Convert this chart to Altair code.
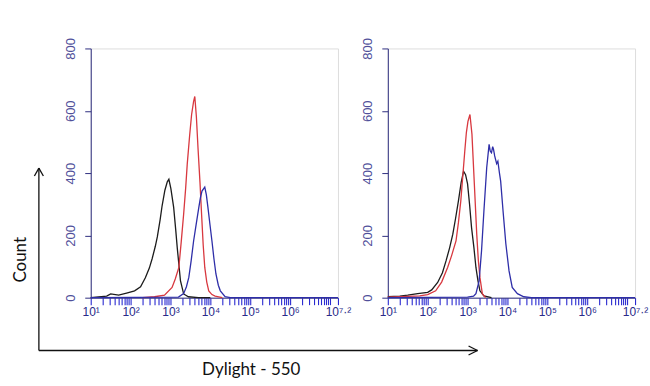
import math
import altair as alt
import pandas as pd

# ---------------- data (log10 fluorescence, count) ----------------
# Left panel
black_L_x = [1.0, 1.4, 1.5, 1.7, 1.9, 2.1, 2.25, 2.37, 2.47, 2.54, 2.62, 2.67, 2.74, 2.79, 2.86, 2.92, 2.96, 3.01, 3.08, 3.13, 3.17, 3.25, 3.33, 3.45, 3.7, 4.0]
black_L_y = [0, 5, 12, 8, 15, 22, 35, 64, 95, 125, 165, 195, 250, 295, 345, 372, 380, 350, 290, 220, 160, 55, 12, 3, 0, 0]
red_L_x = [2.3, 2.6, 2.85, 3.04, 3.12, 3.21, 3.27, 3.33, 3.38, 3.42, 3.48, 3.53, 3.58, 3.61, 3.65, 3.69, 3.74, 3.78, 3.82, 3.86, 3.91, 3.96, 4.04, 4.12, 4.3]
red_L_y = [0, 3, 8, 33, 60, 97, 180, 268, 350, 428, 520, 588, 630, 646, 580, 481, 370, 268, 170, 97, 50, 22, 10, 5, 0]
blue_L_x = [1.0, 3.2, 3.33, 3.40, 3.46, 3.52, 3.58, 3.65, 3.71, 3.75, 3.79, 3.86, 3.90, 3.94, 3.99, 4.04, 4.09, 4.14, 4.2, 4.25, 4.37, 4.5, 7.2]
blue_L_y = [0, 2, 13, 35, 65, 120, 182, 240, 289, 320, 342, 355, 330, 289, 235, 182, 125, 76, 40, 22, 3, 0, 0]

# Right panel
black_R_x = [1.0, 1.3, 1.5, 1.75, 2.0, 2.1, 2.25, 2.37, 2.46, 2.55, 2.63, 2.7, 2.77, 2.84, 2.90, 2.95, 3.0, 3.05, 3.10, 3.16, 3.21, 3.26, 3.31, 3.41, 3.6]
black_R_y = [3, 5, 8, 13, 17, 25, 49, 80, 118, 160, 204, 255, 310, 370, 406, 395, 365, 300, 225, 160, 97, 55, 22, 6, 0]
red_R_x = [1.0, 1.5, 1.8, 2.0, 2.2, 2.35, 2.50, 2.6, 2.71, 2.77, 2.83, 2.88, 2.93, 2.97, 3.01, 3.06, 3.11, 3.17, 3.23, 3.27, 3.31, 3.37, 3.45]
red_R_y = [2, 4, 6, 10, 22, 50, 97, 135, 182, 240, 310, 390, 470, 530, 566, 588, 525, 365, 204, 120, 65, 13, 0]
blue_R_x = [1.0, 3.0, 3.15, 3.21, 3.29, 3.35, 3.41, 3.48, 3.54, 3.57, 3.60, 3.63, 3.65, 3.68, 3.70, 3.73, 3.76, 3.80, 3.83, 3.89, 3.96, 4.04, 4.12, 4.25, 4.41, 4.6, 7.2]
blue_R_y = [0, 2, 5, 13, 54, 150, 278, 417, 492, 470, 465, 485, 477, 455, 445, 430, 438, 400, 374, 278, 173, 86, 33, 13, 3, 0, 0]

series_names = ["black", "red", "blue"]
series_colors = ["#1c1c1c", "#d8383f", "#2e2ea8"]

y_ticks = [0, 200, 400, 600, 800]
x_decades = [1, 2, 3, 4, 5, 6]
x_decade_labels = ["10¹", "10²", "10³", "10⁴", "10⁵", "10⁶"]
x_end = 7.2
x_end_label = "10⁷·²"

x_label = "Dylight - 550"
y_label = "Count"


def make_df(xs_list, ys_list):
    rows = []
    for name, xs, ys in zip(series_names, xs_list, ys_list):
        for i, (a, b) in enumerate(zip(xs, ys)):
            rows.append({"series": name, "logx": a, "count": b, "i": i})
    return pd.DataFrame(rows)


df_L = make_df([black_L_x, red_L_x, blue_L_x], [black_L_y, red_L_y, blue_L_y])
df_R = make_df([black_R_x, red_R_x, blue_R_x], [black_R_y, red_R_y, blue_R_y])

# tick positions: decades with log-minor ticks
tick_vals = []
for d in x_decades:
    for k in range(1, 10):
        tick_vals.append(round(d + math.log10(k), 4))
tick_vals += [7.0, x_end]

expr = ""
for d, lab in zip(x_decades, x_decade_labels):
    expr += f"datum.value == {d} ? '{lab}' : "
expr += f"datum.value == {x_end} ? '{x_end_label}' : ''"

NAVY = "#2e2e80"
W, H = 248, 250
one = pd.DataFrame({"a": [0]})

x_axis = alt.Axis(values=tick_vals, labelExpr=expr, labelOverlap=False, labelFlush=False,
                  grid=False, tickColor="#2a2ad0", tickSize=7, tickWidth=1.1, domainColor=NAVY,
                  labelColor="#2a2a8a", labelFont="Liberation Sans", labelFontSize=12,
                  labelPadding=2, title=None)
y_axis = alt.Axis(values=y_ticks, labelAngle=270, labelAlign="center", labelBaseline="bottom",
                  grid=False, tickColor=NAVY, tickSize=6, domainColor=NAVY,
                  labelColor="#50509a", labelFont="Liberation Sans", labelFontSize=13,
                  labelPadding=7, title=None)


def panel(df):
    return alt.Chart(df).mark_line(strokeWidth=1.3, interpolate="linear").encode(
        x=alt.X("logx:Q", scale=alt.Scale(domain=[1, x_end], nice=False, zero=False), axis=x_axis),
        y=alt.Y("count:Q", scale=alt.Scale(domain=[0, 800], nice=False), axis=y_axis),
        color=alt.Color("series:N", scale=alt.Scale(domain=series_names, range=series_colors), legend=None),
        order="i:Q",
    )


def seg(x1, y1, x2, y2, color="#111111", op=1.0):
    return alt.Chart(one).mark_rule(color=color, strokeWidth=1.3, opacity=op).encode(
        x=alt.value(x1), y=alt.value(y1), x2=alt.value(x2), y2=alt.value(y2))


def label(txt, x, y, angle=0):
    return alt.Chart(one).mark_text(text=txt, font="Lato", fontSize=17, color="#111111",
                                    angle=angle, align="center", baseline="middle").encode(
        x=alt.value(x), y=alt.value(y))


left = alt.layer(
    seg(-90, -47, -90, 339, op=0),          # invisible bound keeper
    panel(df_L),
    seg(-52, 303, -52, 120), seg(-52, 120, -56.5, 128), seg(-52, 120, -47.5, 128),
    seg(-52, 303, 388, 303), seg(388, 303, 379, 298.5), seg(388, 303, 379, 307.5),
    label(y_label, -70, 212, 270),
    label(x_label, 161, 323),
).properties(width=W, height=H)

right = alt.layer(
    panel(df_R),
    seg(262, 0, 262, 1, op=0),
).properties(width=W, height=H)

chart = alt.hconcat(left, right, spacing=50, bounds="flush").properties(padding=0).configure_view(
    stroke=NAVY, strokeWidth=1.4
).configure(background="white")

chart.save("out.html", embed_options={"renderer": "svg", "actions": False})
